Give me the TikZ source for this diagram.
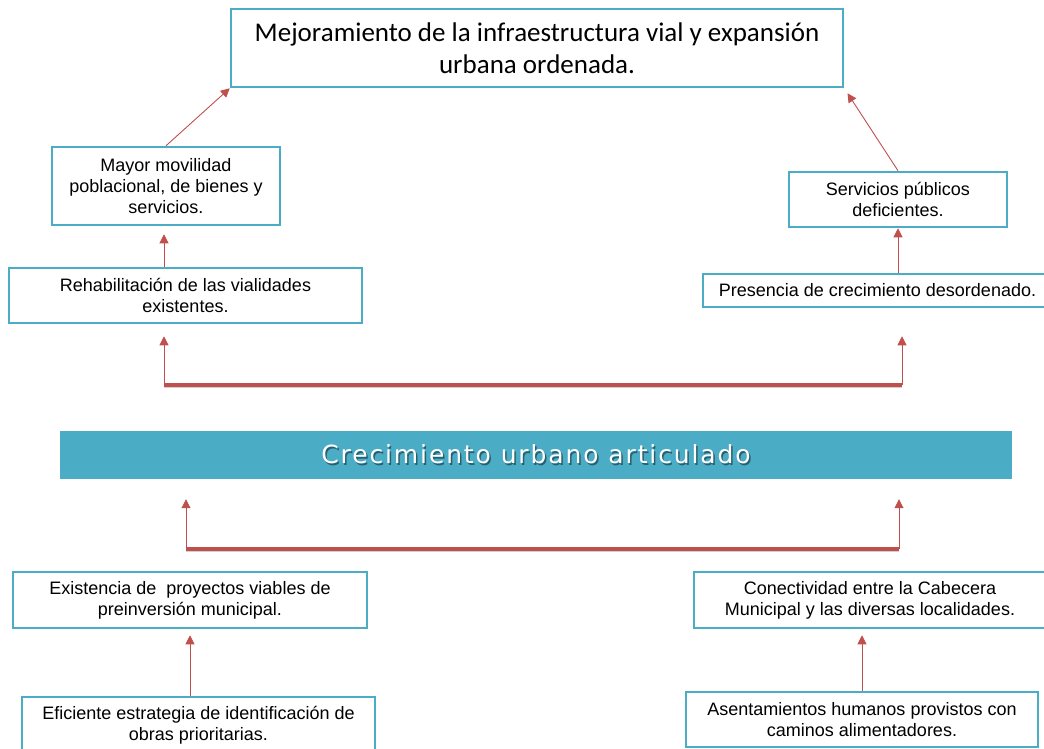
\documentclass[tikz,border=0pt]{standalone}
\usepackage{fontspec}
\setmainfont{Liberation Sans}
\newfontfamily\titlefont{Carlito}
\newfontfamily\bannerfont[LetterSpace=7.5]{DejaVu Sans}
\usetikzlibrary{arrows.meta}
\definecolor{arbolBlue}{RGB}{75,172,198}
\definecolor{arbolRed}{RGB}{192,80,77}
\providecommand{\arbolShade}{arbolBlue!55!black}

\begin{document}
\begin{tikzpicture}[x=1pt, y=-1pt,
  caja/.style={draw=arbolBlue, line width=2.5pt, fill=white, align=center,
    inner sep=0pt, font=\fontsize{18}{21}\selectfont},
  flecha/.style={draw=arbolRed, line width=0.9pt, -{Triangle[length=9pt,width=9pt]}},
  barra/.style={draw=arbolRed, line width=4.5pt},
  sombra/.style={draw=black!30, line width=5pt, opacity=0.6}]
\useasboundingbox (0,0) rectangle (1044,749);
% Fines (upper half)
\node[caja, minimum width=612pt, minimum height=78pt,
  font=\titlefont\fontsize{27}{32}\selectfont] (fin) at (537,48)
  {Mejoramiento de la infraestructura vial y expansi\'on\\urbana ordenada.};
\node[caja, minimum width=228pt, minimum height=78pt] (movilidad) at (166,186)
  {Mayor movilidad\\poblacional, de bienes y\\servicios.};
\node[caja, minimum width=353pt, minimum height=55pt] (rehab) at (185.5,295.5)
  {Rehabilitaci\'on de las vialidades\\existentes.};
\node[caja, minimum width=218pt, minimum height=55pt] (servicios) at (898,199.5)
  {Servicios p\'ublicos\\deficientes.};
\node[caja, minimum width=349pt, minimum height=33pt] (presencia) at (877.5,290.5)
  {Presencia de crecimiento desordenado.};
% Objetivo central
\node[fill=arbolBlue, minimum width=952pt, minimum height=48pt, inner sep=0pt,
  font=\bannerfont\fontsize{25}{28}\selectfont] (objetivo) at (536,455)
  {\makebox[0pt][l]{\raisebox{-1.5pt}{\hspace{1.5pt}\color{\arbolShade}Crecimiento urbano articulado}}%
   \color{white}Crecimiento urbano articulado};
% Medios (lower half)
\node[caja, minimum width=354pt, minimum height=56pt] (proyectos) at (190,600)
  {Existencia de\ \ proyectos viables de\\preinversi\'on municipal.};
\node[caja, minimum width=353pt, minimum height=56pt] (estrategia) at (198.5,725)
  {Eficiente estrategia de identificaci\'on de\\obras prioritarias.};
\node[caja, minimum width=352pt, minimum height=56pt] (conectividad) at (870,600)
  {Conectividad entre la Cabecera\\Municipal y las diversas localidades.};
\node[caja, minimum width=352pt, minimum height=55pt] (asentamientos) at (862,719.5)
  {Asentamientos humanos provistos con\\caminos alimentadores.};
% Brackets
\coordinate (fl) at (164,385);
\coordinate (fr) at (902,385);
\coordinate (ml) at (186,549);
\coordinate (mr) at (899,549);
\draw[sombra, shift={(1,3)}] (fl) -- (fr);
\draw[sombra, shift={(1,3)}] (ml) -- (mr);
\draw[barra] (fl) -- (fr);
\draw[barra] (ml) -- (mr);
% Arrows
\draw[flecha, shorten >=12pt] (fl) -- (fl |- rehab.south);
\draw[flecha, shorten >=28pt] (fr) -- (fr |- presencia.south);
\draw[flecha, shorten >=20pt] (ml) -- (ml |- objetivo.south);
\draw[flecha, shorten >=20pt] (mr) -- (mr |- objetivo.south);
\draw[flecha, shorten >=8pt] (rehab.north -| fl) -- (fl |- movilidad.south);
\draw[flecha] (movilidad.north) -- (fin.south west);
\draw[flecha] (presencia.north -| servicios) -- (servicios.south);
\draw[flecha, shorten >=6pt] (servicios.north) -- (fin.south east);
\draw[flecha, shorten >=6pt] (estrategia.north -| proyectos) -- (proyectos.south);
\draw[flecha, shorten >=6pt] (asentamientos.north) -- (asentamientos.north |- conectividad.south);
\end{tikzpicture}
\end{document}
